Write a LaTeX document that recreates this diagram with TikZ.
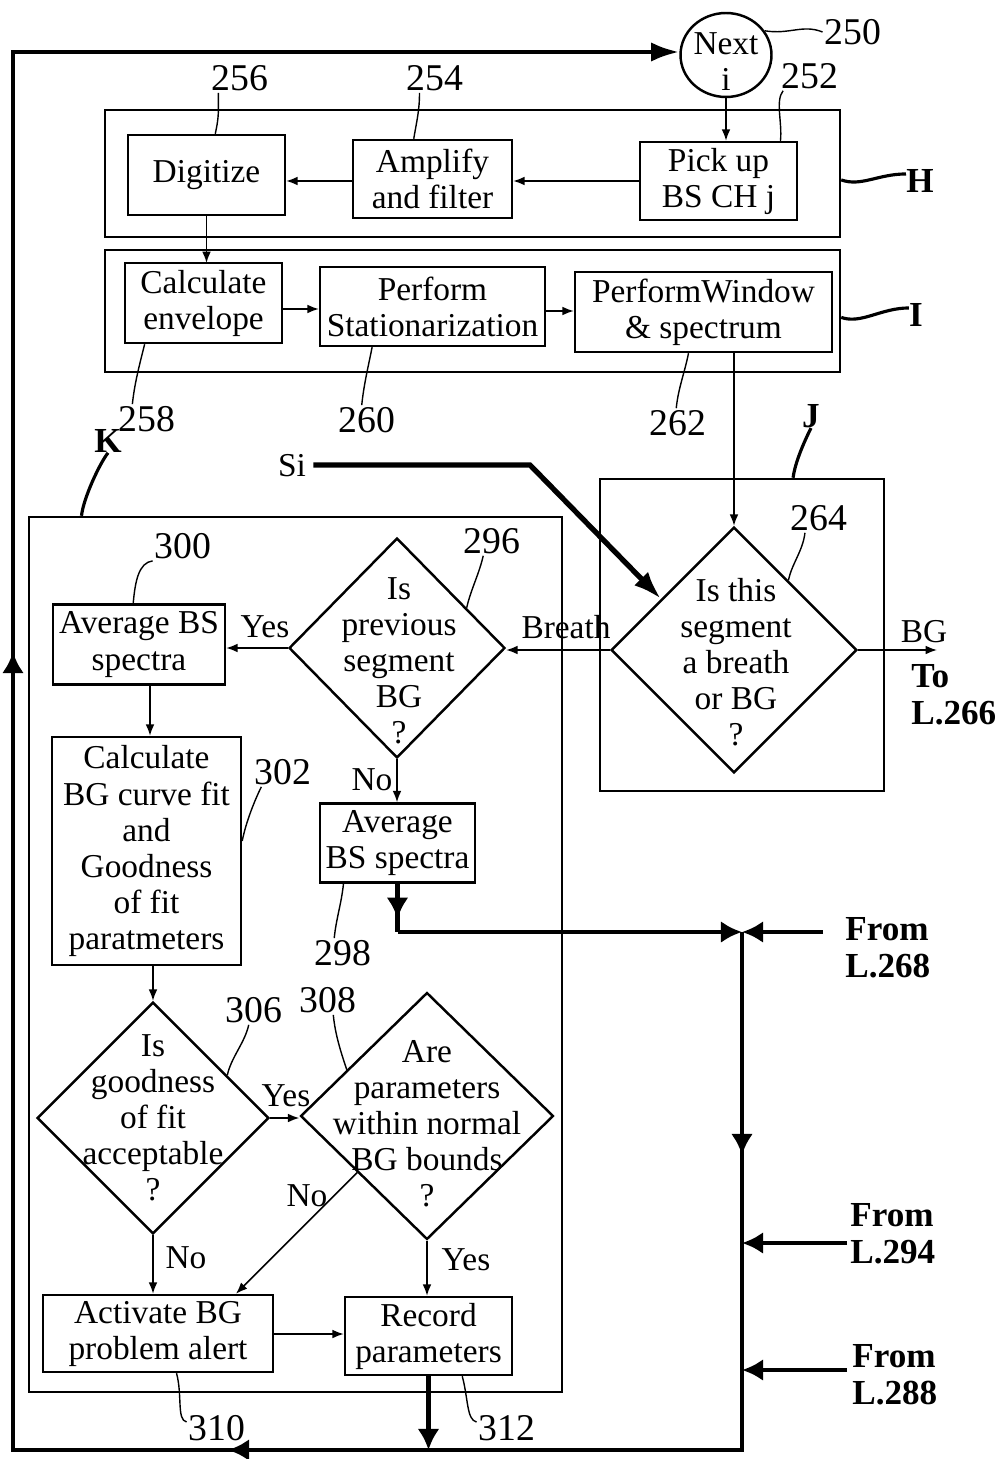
\documentclass[tikz,border=0pt]{standalone}
\usepackage{fontspec}
\setmainfont{Liberation Serif}
\usepackage{tikz}
\usetikzlibrary{shapes.geometric, arrows.meta, fit}

\tikzset{
    txt/.style={font=\fontsize{19}{20.5}\selectfont, align=center, inner sep=0pt},
    box/.style={rectangle, draw, line width=1.4pt, txt},
    grp/.style={rectangle, draw, line width=1.4pt, inner sep=0pt},
    dia/.style={diamond, draw, line width=1.4pt, inner sep=0pt},
    num/.style={font=\fontsize{21.5}{22}\selectfont, inner sep=1pt},
    blab/.style={font=\fontsize{20}{21}\selectfont\bfseries, align=left, inner sep=0pt},
    lead/.style={line width=0.8pt},
    sq/.style={line width=1.8pt},
    arr/.style={line width=0.9pt, -{Latex[length=6.5pt, width=5pt]}},
    heavy/.style={line width=2.6pt},
    heavyarr/.style={line width=2.6pt, -{Latex[length=12pt, width=12.5pt]}},
    bigarr/.style={line width=2.6pt, -{Latex[length=16pt, width=11pt]}},
}

\begin{document}
\begin{tikzpicture}[x=0.02cm, y=-0.02cm]
    \useasboundingbox (0,0) rectangle (1007,1459);

    % next channel
    \node [ellipse, draw, line width=1.4pt, minimum width=1.82cm, minimum height=1.68cm, inner sep=0pt] (next) at (726,55) {};
    \node [txt] (nextt) at (726,62) {Next\\i};
    \node [num] (n250) at (853,32) {250};
    \draw [lead] (next.32) .. controls +(25,4) and +(-20,-8) .. (n250.west);

    % block H
    \node [box, minimum width=3.14cm, minimum height=1.6cm] (dig) at (206.5,175) {Digitize};
    \node [box, minimum width=3.18cm, minimum height=1.56cm] (amp) at (432.5,179) {Amplify\\and filter};
    \node [box, minimum width=3.14cm, minimum height=1.56cm] (pick) at (718.5,181) {Pick up\\BS CH j};
    \node [grp, fit={(105,110) (840,237)}] (H) {};
    \node [blab] (Hl) at (920,181) {H};
    \draw [sq] (H.-1.5) .. controls +(20,7) and +(-28,0) .. ([yshift=4pt]Hl.west);

    \node [num] (n256) at (240,78) {256};
    \node [num] (n254) at (435,78) {254};
    \node [num] (n252) at (810,76) {252};
    \draw [lead] ([xshift=5pt]n256.south west) .. controls +(0,18) and +(4,-18) .. (dig.78);
    \draw [lead] ([xshift=8.5pt]n254.south west) .. controls +(0,18) and +(3,-18) .. (amp.115);
    \draw [lead] ([xshift=2pt]n252.south west) .. controls +(-8,10) and +(2,-18) .. (pick.33);

    \draw [arr] (next.south) -- (next.south |- pick.north);
    \draw [arr] (pick.west) -- (pick.west -| amp.east);
    \draw [arr] (amp.west |- pick.west) -- (dig.east |- pick.west);
    \draw [arr] (dig.south) -- (dig.south |- 0,263);

    % block I
    \node [box, minimum width=3.14cm, minimum height=1.6cm] (env) at (203.5,303) {Calculate\\envelope};
    \node [box, minimum width=4.5cm, minimum height=1.58cm] (stat) at (432.5,306.5) {Perform\\Stationarization};
    \node [box, minimum width=5.14cm, minimum height=1.6cm] (win) at (703.5,312) {PerformWindow\\\& spectrum};
    \node [grp, fit={(105,250) (840,372)}] (I) {};
    \node [blab] (Il) at (916,315) {I};
    \draw [sq] (I.-1.4) .. controls +(20,7) and +(-28,0) .. ([yshift=4pt]Il.west);

    \draw [arr] (env.east |- 0,309) -- (stat.west |- 0,309);
    \draw [arr] (stat.east |- 0,311) -- (win.west |- 0,311);

    \node [num] (n258) at (147,419) {258};
    \node [num] (n260) at (367,420) {260};
    \node [num] (n262) at (678,423) {262};
    \draw [lead] (env.215) .. controls +(-5,20) and +(2,-20) .. ([xshift=9pt]n258.north west);
    \draw [lead] (stat.214) .. controls +(-4,20) and +(2,-20) .. ([xshift=-3pt]n260.north);
    \draw [lead] (win.250) .. controls +(-4,20) and +(2,-20) .. ([xshift=-1pt]n262.north);

    % block J
    \node [grp, fit={(600,479) (884,791)}] (J) {};
    \node [blab] (Jl) at (811,416) {J};
    \draw [sq] (Jl.south) .. controls +(-6,12) and +(2,-16) .. (J.72);
    \node [dia, minimum width=4.92cm, minimum height=4.92cm] (d264) at (734,650) {};
    \node [txt] (d264t) at (736,662) {Is this\\segment\\a breath\\or BG\\?};
    \node [num] (n264) at (819,518) {264};
    \draw [lead] ([xshift=-8pt]n264.south) .. controls +(-2,18) and +(3,-16) .. (d264.52);
    \draw [arr] (d264.north |- win.south) -- (d264.north);

    \node [txt, inner sep=4pt] (si) at (292,466) {Si};
    \coordinate (sib) at (530,465);
    \draw [bigarr, line width=3pt] (si.east |- sib) -- (sib) -- (d264.145);

    \coordinate (e266) at (937,650);
    \draw [arr] (d264.east) -- (e266);
    \node [txt] (bgl) at (924,632) {BG};
    \node [blab, anchor=west] (to266) at (911,695) {To\\L.266};

    % block K
    \node [grp, fit={(29,517) (562,1392)}] (K) {};
    \node [blab] (Kl) at (108,441) {K};
    \draw [sq] (Kl.south) .. controls +(-8,10) and +(2,-18) .. (K.116);

    \node [dia, minimum width=4.32cm, minimum height=4.4cm] (d296) at (397,648) {};
    \node [txt] (d296t) at (399,661) {Is\\previous\\segment\\BG\\?};
    \node [num] (n296) at (492,541) {296};
    \draw [lead] ([xshift=-5pt]n296.south) .. controls +(-4,18) and +(4,-18) .. (d296.30);
    \draw [arr] (d264.west) -- (d264.west -| d296.east);
    \node [txt] (brl) at (566,627) {Breath};

    \node [box, minimum width=3.44cm, minimum height=1.6cm] (a300) at (139,644.5) {Average BS\\spectra};
    \node [num] (n300) at (183,546) {300};
    \draw [lead] (n300.south west) .. controls +(-14,2) and +(2,-22) .. (a300.98);
    \draw [arr] (d296.west) -- (d296.west -| a300.east);
    \node [txt] (y296) at (265,627) {Yes};

    \node [box, minimum width=3.78cm, minimum height=4.56cm] (cbg) at (146.5,851) {Calculate\\BG curve fit\\and\\Goodness\\of fit\\paratmeters};
    \node [num] (n302) at (283,772) {302};
    \draw [lead] ([xshift=5pt]n302.south west) .. controls +(-6,12) and +(4,-20) .. (cbg.6);
    \draw [arr] (a300.south -| 150,0) -- (cbg.north -| 150,0);

    \node [box, minimum width=3.1cm, minimum height=1.58cm] (a298) at (397.5,843) {Average\\BS spectra};
    \node [num] (n298) at (343,953) {298};
    \draw [lead] (a298.217) .. controls +(-2,20) and +(2,-20) .. ([xshift=-5pt]n298.north);
    \draw [arr] (d296.south) -- (d296.south |- a298.north);
    \node [txt] (n296no) at (372,780) {No};

    \node [dia, minimum width=4.64cm, minimum height=4.64cm] (d306) at (153,1118) {};
    \node [txt] (d306t) at (153,1118) {Is\\goodness\\of fit\\acceptable\\?};
    \node [num] (n306) at (254,1010) {306};
    \draw [lead] ([xshift=-3pt]n306.south) .. controls +(-4,18) and +(4,-18) .. (d306.30);
    \draw [arr] (d306.north |- cbg.south) -- (d306.north);

    \node [dia, minimum width=5.06cm, minimum height=4.94cm] (d308) at (427,1116) {};
    \node [txt] (d308t) at (427,1124) {Are\\parameters\\within normal\\BG bounds\\?};
    \node [num] (n308) at (328,1000) {308};
    \draw [lead] ([xshift=3pt]n308.south) .. controls +(2,20) and +(-6,-18) .. (d308.150);
    \draw [arr] (d306.east) -- (d306.east -| d308.west);
    \node [txt] (y306) at (286,1096) {Yes};

    \node [box, minimum width=4.6cm, minimum height=1.54cm] (act) at (158,1333.5) {Activate BG\\problem alert};
    \node [box, minimum width=3.34cm, minimum height=1.56cm] (rec) at (428.5,1336) {Record\\parameters};
    \draw [arr] (d306.south) -- (d306.south |- act.north);
    \node [txt] (no306) at (186,1258) {No};
    \draw [arr] (d308.219) -- (act.27);
    \node [txt] (no308) at (307,1196) {No};
    \draw [arr] (d308.south) -- (d308.south |- rec.north);
    \node [txt] (y308) at (466,1260) {Yes};
    \draw [arr] (act.east |- 0,1334) -- (rec.west |- 0,1334);

    \node [num] (n310) at (217,1428) {310};
    \node [num] (n312) at (507,1428) {312};
    \draw [lead] (act.295) .. controls +(6,22) and +(-10,-2) .. ([yshift=-5pt]n310.north west);
    \draw [lead] (rec.310) .. controls +(6,22) and +(-10,-2) .. ([yshift=-5pt]n312.north west);

    % return paths
    \coordinate (jtop) at (742,932);
    \coordinate (jmid) at (742,1155);
    \coordinate (jbot) at (742,1450);
    \coordinate (bar) at (228,1450);
    \coordinate (cbl) at (13,1450);
    \coordinate (lar) at (13,652);
    \coordinate (ctl) at (13,52);
    \coordinate (e268) at (823,932);
    \coordinate (e294) at (847,1243);
    \coordinate (e288) at (847,1370);
    \coordinate (b298) at (a298.south |- jtop);

    \draw [heavy] (a298.south) -- (b298);
    \draw [heavyarr] (a298.south) -- ++(0,35);
    \draw [heavyarr] (b298) -- (jtop);
    \draw [heavyarr] (e268) -- (jtop);
    \draw [heavyarr] (e294) -- (e294 -| jtop);
    \draw [heavyarr] (e288) -- (e288 -| jtop);
    \draw [heavy] (jtop) -- (jbot) -- (cbl) -- (ctl) -- ([xshift=-12pt]ctl -| next.west);
    \draw [heavyarr] (jtop) -- (jmid);
    \draw [heavyarr] (jbot) -- (bar);
    \draw [heavyarr] (cbl) -- (lar);
    \draw [heavyarr] (rec.south) -- (rec.south |- jbot);
    \draw [bigarr] (ctl) -- (ctl -| next.west);

    \node [blab, anchor=west] (f268) at (845,948) {From\\L.268};
    \node [blab, anchor=west] (f294) at (850,1234) {From\\L.294};
    \node [blab, anchor=west] (f288) at (852,1375) {From\\L.288};
\end{tikzpicture}
\end{document}
